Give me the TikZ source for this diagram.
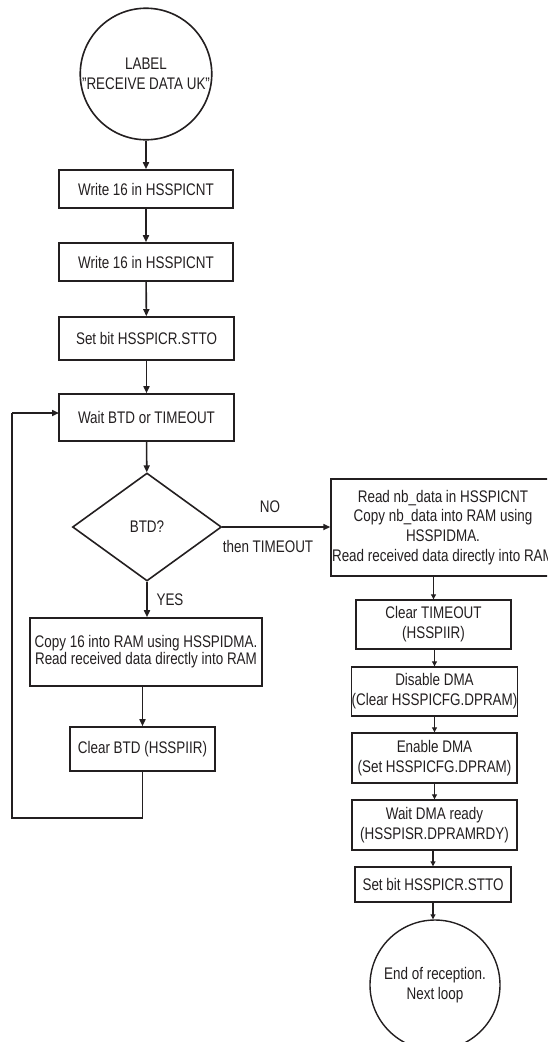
\documentclass[tikz,border=0pt]{standalone}
\usepackage{fontspec}
\setmainfont{Liberation Sans}[FakeStretch=0.8]
\usetikzlibrary{shapes.geometric,arrows.meta}
\definecolor{ink}{HTML}{231F20}
\begin{document}
\begin{tikzpicture}[x=1pt,y=-1pt,
  every node/.style={text=ink,font=\fontsize{16.8}{19.8}\selectfont,inner sep=0pt,align=center},
  lbox/.style={draw=ink,line width=1.6pt,rectangle},
  rbox/.style={draw=ink,line width=1.4pt,rectangle},
  term/.style={draw=ink,line width=1.6pt,circle,minimum size=128},
  dec/.style={draw=ink,line width=1.6pt,diamond,minimum width=149,minimum height=108},
  larr/.style={draw=ink,line width=1.6pt,-{Triangle[length=7pt,width=6pt]}},
  rarr/.style={draw=ink,line width=1.1pt,-{Triangle[length=5pt,width=5pt]}},
  lline/.style={draw=ink,line width=1.6pt}]
\useasboundingbox (0,0) rectangle (547,1042);
\clip (0,0) rectangle (547,1042);
% left column
\node[term] (start) at (146,74) {LABEL\\"RECEIVE DATA UK"};
\node[lbox,minimum width=174,minimum height=38] (w1) at (146,189) {Write 16 in HSSPICNT};
\node[lbox,minimum width=174,minimum height=38] (w2) at (146,262) {Write 16 in HSSPICNT};
\node[lbox,minimum width=175,minimum height=43] (s1) at (146.5,338.5) {Set bit HSSPICR.STTO};
\node[lbox,minimum width=175,minimum height=47] (wait) at (146.5,417.5) {Wait BTD or TIMEOUT};
\node[dec] (btd) at (147,527) {BTD?};
\node (yes) at (170,600) {YES};
\node[lbox,minimum width=232,minimum height=68,font=\fontsize{16.8}{16.9}\selectfont] (copy) at (146,652) {Copy 16 into RAM using HSSPIDMA.\\Read received data directly into RAM};
\node[lbox,minimum width=145,minimum height=44] (clr) at (142.5,749) {Clear BTD (HSSPIIR)};
\coordinate (lb) at (142.5,818);
\coordinate (ll) at (12,818);
\coordinate (lt) at (12,413);
\coordinate (le) at (59,413);
% right column
\node (no) at (270,507) {NO};
\node (then) at (268,546) {then TIMEOUT};
\node[rbox,minimum width=224,minimum height=97] (rd) at (443,527.5) {Read nb\_data in HSSPICNT\\Copy nb\_data into RAM using\\HSSPIDMA.\\Read received data directly into RAM};
\node[rbox,minimum width=155,minimum height=49] (ct) at (433.5,624.5) {Clear TIMEOUT\\(HSSPIIR)};
\node[rbox,minimum width=165,minimum height=49] (dis) at (434.5,691.5) {Disable DMA\\(Clear HSSPICFG.DPRAM)};
\node[rbox,minimum width=165,minimum height=50] (en) at (434.5,758) {Enable DMA\\(Set HSSPICFG.DPRAM)};
\node[rbox,minimum width=165,minimum height=50] (wd) at (434.5,825) {Wait DMA ready\\(HSSPISR.DPRAMRDY)};
\node[rbox,minimum width=156,minimum height=35] (sb) at (433,884.5) {Set bit HSSPICR.STTO};
\node[draw=ink,line width=1.4pt,circle,minimum size=130] (end) at (435,985) {End of reception.\\Next loop};
% connectors
\draw[larr] (start) -- (w1);
\draw[larr] (w1) -- (w2);
\draw[larr] (w2) -- (s1);
\draw[larr] (s1) -- (wait);
\draw[larr] (wait) -- (btd);
\draw[larr] (btd) -- (copy.north -| btd.south);
\draw[larr] (copy.south -| clr.north) -- (clr);
\draw[lline] (clr.south) -- (lb) -- (ll) -- (lt);
\draw[larr] (lt) -- (le);
\draw[larr] (btd.east) -- (rd.west |- btd.east);
\draw[rarr] (rd.south -| ct.north) -- (ct);
\draw[rarr] (ct.south -| dis.north) -- (dis);
\draw[rarr] (dis) -- (en);
\draw[rarr] (en) -- (wd);
\draw[rarr] (wd.south -| sb.north) -- (sb);
\draw[rarr] (sb) -- (end.north -| sb.south);
\end{tikzpicture}
\end{document}
